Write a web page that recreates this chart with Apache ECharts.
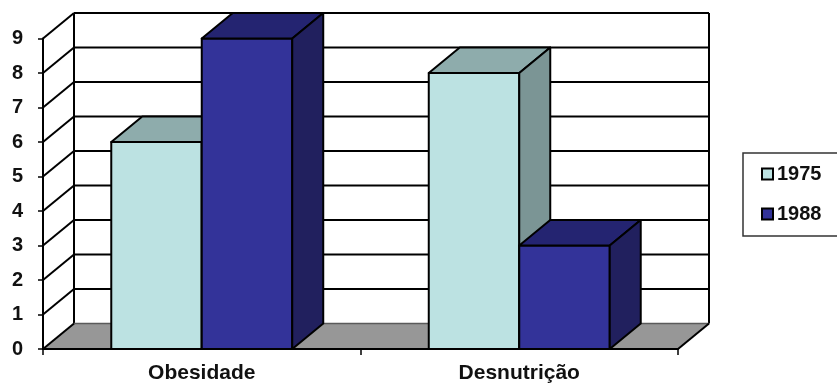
<!DOCTYPE html>
<html>
<head>
<meta charset="utf-8">
<script src="https://cdn.jsdelivr.net/npm/echarts@6/dist/echarts.min.js"></script>
<style>
  html, body { margin: 0; padding: 0; background: #fff; }
  #chart { width: 837px; height: 385px; }
</style>
</head>
<body>
<div id="chart"></div>
<script>
// Chart data
const categories = ['Obesidade', 'Desnutrição'];
const seriesNames = ['1975', '1988'];
const values1975 = [6, 8];
const values1988 = [9, 3];
const yTicks = [0, 1, 2, 3, 4, 5, 6, 7, 8, 9];

// 3D depth offset (screen pixels) of the back wall and bar depth
const DX = 31;
const DY = 25.5;
const FONT = '"Liberation Sans", Arial, sans-serif';

// Face colours per series: front, top, side
const faces = {
  '1975': { front: '#bce2e2', top: '#8eacac', side: '#7b9595' },
  '1988': { front: '#333399', top: '#242471', side: '#21205e' }
};

const chart = echarts.init(document.getElementById('chart'), null, { renderer: 'canvas' });

// Back wall, left wall lines, gridlines and the grey floor
function renderFrame(params, api) {
  const cs = params.coordSys;
  const x0 = cs.x, x1 = cs.x + cs.width;
  const children = [];
  const yTop = api.coord([0, yTicks[yTicks.length - 1]])[1];
  const yBot = api.coord([0, yTicks[0]])[1];
  // back wall fill
  children.push({
    type: 'rect',
    shape: { x: x0 + DX, y: yTop - DY, width: x1 - x0, height: yBot - yTop },
    style: { fill: '#ffffff' }
  });
  // horizontal gridlines on back wall (except floor level)
  yTicks.forEach(function (v) {
    if (v === yTicks[0]) return;
    const y = api.coord([0, v])[1];
    children.push({
      type: 'line',
      shape: { x1: x0 + DX, y1: y - DY, x2: x1 + DX, y2: y - DY },
      style: { stroke: '#000', lineWidth: 2 }
    });
  });
  // vertical edges of the back wall
  children.push({
    type: 'line',
    shape: { x1: x0 + DX, y1: yTop - DY, x2: x0 + DX, y2: yBot - DY },
    style: { stroke: '#000', lineWidth: 2 }
  });
  children.push({
    type: 'line',
    shape: { x1: x1 + DX, y1: yTop - DY, x2: x1 + DX, y2: yBot - DY },
    style: { stroke: '#000', lineWidth: 2 }
  });
  // floor
  children.push({
    type: 'polygon',
    shape: { points: [[x0, yBot], [x1, yBot], [x1 + DX, yBot - DY], [x0 + DX, yBot - DY]] },
    style: { fill: '#979797' }
  });
  children.push({
    type: 'line',
    shape: { x1: x0 + DX, y1: yBot - DY, x2: x1 + DX, y2: yBot - DY },
    style: { stroke: '#5a5a5a', lineWidth: 1.5 }
  });
  children.push({
    type: 'line',
    shape: { x1: x1, y1: yBot, x2: x1 + DX, y2: yBot - DY },
    style: { stroke: '#000', lineWidth: 2 }
  });
  // diagonals on the left wall at each tick
  yTicks.forEach(function (v) {
    const y = api.coord([0, v])[1];
    children.push({
      type: 'line',
      shape: { x1: x0, y1: y, x2: x0 + DX, y2: y - DY },
      style: { stroke: '#000', lineWidth: 2 }
    });
  });
  return { type: 'group', children: children };
}

// 3D column: front, top and side faces
function makeBarRenderer(seriesIdx, name) {
  const c = faces[name];
  return function (params, api) {
    const cat = api.value(0);
    const val = api.value(1);
    const top = api.coord([cat, val]);
    const base = api.coord([cat, 0]);
    const band = api.size([1, 0])[0];
    const bw = band * 0.285;
    const xl = seriesIdx === 0 ? top[0] - bw : top[0];
    const xr = xl + bw;
    const yt = top[1], yb = base[1];
    const stroke = { stroke: '#000', lineWidth: 2, lineJoin: 'round' };
    return {
      type: 'group',
      children: [
        { type: 'polygon',
          shape: { points: [[xl, yt], [xr, yt], [xr, yb], [xl, yb]] },
          style: Object.assign({ fill: c.front }, stroke) },
        { type: 'polygon',
          shape: { points: [[xl, yt], [xl + DX, yt - DY], [xr + DX, yt - DY], [xr, yt]] },
          style: Object.assign({ fill: c.top }, stroke) },
        { type: 'polygon',
          shape: { points: [[xr, yt], [xr + DX, yt - DY], [xr + DX, yb - DY], [xr, yb]] },
          style: Object.assign({ fill: c.side }, stroke) }
      ]
    };
  };
}

const option = {
  animation: false,
  backgroundColor: '#ffffff',
  grid: { left: 43, right: 159, top: 38.5, bottom: 36 },
  legend: {
    orient: 'vertical',
    left: 743,
    top: 153,
    padding: [11, 40, 12, 18],
    itemGap: 20,
    itemWidth: 11,
    itemHeight: 11,
    icon: 'rect',
    backgroundColor: '#ffffff',
    borderColor: '#333',
    borderWidth: 1.5,
    textStyle: { fontFamily: FONT, fontSize: 20, fontWeight: 'bold', color: '#111', padding: [0, 0, 0, -1] },
    data: seriesNames.map(function (n) {
      return { name: n, itemStyle: { color: faces[n].front, borderColor: '#000', borderWidth: 2 } };
    })
  },
  xAxis: {
    type: 'category',
    data: categories,
    z: 3,
    axisLine: { lineStyle: { color: '#000', width: 2 } },
    axisTick: { show: true, length: 6, lineStyle: { color: '#000', width: 1.5 } },
    axisLabel: { fontFamily: FONT, fontSize: 21, fontWeight: 'bold', color: '#111', margin: 14 },
    splitLine: { show: false }
  },
  yAxis: {
    type: 'value',
    min: 0,
    max: 9,
    interval: 1,
    z: 3,
    axisLine: { show: true, lineStyle: { color: '#000', width: 2 } },
    axisTick: { show: true, length: 5, lineStyle: { color: '#000', width: 1.5 } },
    axisLabel: { fontFamily: FONT, fontSize: 20, fontWeight: 'bold', color: '#111', margin: 20 },
    splitLine: { show: false }
  },
  series: [
    {
      type: 'custom',
      name: 'frame',
      silent: true,
      renderItem: renderFrame,
      data: [[0, 0]],
      z: 1
    },
    {
      type: 'custom',
      name: seriesNames[0],
      itemStyle: { color: faces['1975'].front },
      renderItem: makeBarRenderer(0, seriesNames[0]),
      encode: { x: 0, y: 1 },
      data: categories.map(function (c, i) { return [i, values1975[i]]; }),
      z: 2
    },
    {
      type: 'custom',
      name: seriesNames[1],
      itemStyle: { color: faces['1988'].front },
      renderItem: makeBarRenderer(1, seriesNames[1]),
      encode: { x: 0, y: 1 },
      data: categories.map(function (c, i) { return [i, values1988[i]]; }),
      z: 2
    }
  ]
};

chart.setOption(option);
</script>
</body>
</html>
